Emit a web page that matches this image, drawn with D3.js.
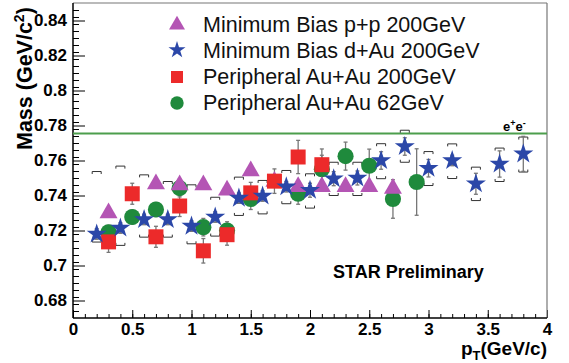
<!DOCTYPE html>
<html>
<head>
<meta charset="utf-8">
<script src="https://cdn.jsdelivr.net/npm/d3@7"></script>
<style>
  body { margin: 0; background: #fff; }
  text { font-family: "Liberation Sans", Arial, Helvetica, sans-serif; }
</style>
</head>
<body>
<svg id="chart" width="569" height="363"></svg>
<script>
// rho mass vs pT, STAR preliminary

const rhoMass = 0.7755;

// Minimum Bias p+p 200GeV (triangles)
const ptPP = [0.3, 0.7, 0.9, 1.1, 1.3, 1.5, 1.7, 1.9, 2.1, 2.3, 2.5, 2.7];
const massPP = [0.730, 0.7466, 0.746, 0.746, 0.743, 0.754, 0.748, 0.745, 0.745, 0.745, 0.745, 0.744];

// Minimum Bias d+Au 200GeV (stars)
const ptDAu = [0.2, 0.4, 0.6, 0.8, 1.0, 1.2, 1.4, 1.6, 1.8, 2.0, 2.2, 2.4, 2.6, 2.8, 3.0, 3.2, 3.4, 3.6, 3.8];
const massDAu = [0.718, 0.7214, 0.7263, 0.7263, 0.7225, 0.7277, 0.7385, 0.7397, 0.745, 0.743, 0.7496, 0.750, 0.760, 0.768, 0.7556, 0.760, 0.7467, 0.758, 0.7638];
const statDAu = [0.003, 0.003, 0.003, 0.003, 0.003, 0.003, 0.003, 0.003, 0.003, 0.004, 0.004, 0.004, 0.005, 0.005, 0.005, 0.003, 0.006, 0.0075, 0.01];
const sysHiDAu = [0.7537, 0.7568, 0.7518, 0.748, 0.7461, 0.739, 0.7505, 0.7486, 0.7543, 0.7524, 0.759, 0.759, 0.7696, 0.7773, 0.7651, 0.7695, 0.7562, 0.7671, 0.7734];
const sysLoDAu = [0.7134, 0.7115, 0.7162, 0.7162, 0.7124, 0.7168, 0.7286, 0.7295, 0.7353, 0.7328, 0.740, 0.740, 0.7496, 0.759, 0.7457, 0.7497, 0.7371, 0.748, 0.7534];

// Peripheral Au+Au 200GeV (squares)
const ptAu200 = [0.3, 0.5, 0.7, 0.9, 1.1, 1.3, 1.5, 1.7, 1.9, 2.1];
const massAu200 = [0.7135, 0.741, 0.7164, 0.734, 0.7084, 0.7176, 0.7415, 0.7482, 0.762, 0.7576];
const errAu200 = [0.006, 0.006, 0.006, 0.006, 0.007, 0.006, 0.006, 0.007, 0.0095, 0.009];

// Peripheral Au+Au 62GeV (circles)
const ptAu62 = [0.3, 0.5, 0.7, 0.9, 1.1, 1.3, 1.5, 1.9, 2.1, 2.3, 2.5, 2.7, 2.9];
const massAu62 = [0.719, 0.7277, 0.732, 0.7442, 0.7219, 0.720, 0.738, 0.741, 0.755, 0.7625, 0.757, 0.738, 0.7477];
const errAu62 = [0.004, 0.004, 0.004, 0.005, 0.005, 0.005, 0.006, 0.006, 0.008, 0.008, 0.0095, 0.011, 0.019];

const xTicks = [0, 0.5, 1, 1.5, 2, 2.5, 3, 3.5, 4];
const yTicks = [0.68, 0.7, 0.72, 0.74, 0.76, 0.78, 0.8, 0.82, 0.84];

const legendLabels = [
    "Minimum Bias p+p 200GeV",
    "Minimum Bias d+Au 200GeV",
    "Peripheral Au+Au 200GeV",
    "Peripheral Au+Au 62GeV"
];

const colPP = "#b455b4", colDAu = "#2b47a8", colAu200 = "#ec2a2a", colAu62 = "#1f8a3c";

const svg = d3.select("#chart");
const x0 = 73, x1 = 547, y0 = 318, y1 = 3;

const x = d3.scaleLinear().domain([0, 4]).range([x0, x1]);
const y = d3.scaleLinear().domain([0.67, 0.85]).range([y0, y1]);

// minor ticks (inward, ROOT style)
svg.append("g")
    .attr("transform", `translate(0,${y0})`)
    .call(d3.axisBottom(x).tickValues(d3.range(0, 41).map(i => i / 10)).tickSizeInner(-4).tickSizeOuter(0).tickFormat(""))
    .call(g => g.select(".domain").remove());
svg.append("g")
    .attr("transform", `translate(${x0},0)`)
    .call(d3.axisLeft(y).tickValues(d3.range(1, 45).map(i => 0.67 + i * 0.004)).tickSizeInner(-6).tickSizeOuter(0).tickFormat(""))
    .call(g => g.select(".domain").remove());

// major ticks with labels
const gx = svg.append("g")
    .attr("transform", `translate(0,${y0})`)
    .call(d3.axisBottom(x).tickValues(xTicks).tickSizeInner(-8).tickSizeOuter(0).tickPadding(5).tickFormat(d3.format("")));
gx.select(".domain").remove();
gx.selectAll("text").attr("font-size", 17).attr("font-weight", "bold").attr("fill", "#000")
    .attr("font-family", "'Liberation Sans', Arial, sans-serif");

const gy = svg.append("g")
    .attr("transform", `translate(${x0},0)`)
    .call(d3.axisLeft(y).tickValues(yTicks).tickSizeInner(-12).tickSizeOuter(0).tickPadding(6).tickFormat(d3.format("")));
gy.select(".domain").remove();
gy.selectAll("text").attr("font-size", 17).attr("font-weight", "bold").attr("fill", "#000")
    .attr("font-family", "'Liberation Sans', Arial, sans-serif");

// frame
svg.append("line").attr("x1", x0).attr("x2", x1).attr("y1", y1).attr("y2", y1).attr("stroke", "#777").attr("stroke-width", 1.2);
svg.append("line").attr("x1", x1).attr("x2", x1).attr("y1", y1).attr("y2", y0).attr("stroke", "#777").attr("stroke-width", 1.2);
svg.append("line").attr("x1", x0).attr("x2", x1).attr("y1", y0).attr("y2", y0).attr("stroke", "#000").attr("stroke-width", 1.5);
svg.append("line").attr("x1", x0).attr("x2", x0).attr("y1", y1).attr("y2", y0).attr("stroke", "#000").attr("stroke-width", 1.5);

// rho mass line
svg.append("line")
    .attr("x1", x0).attr("x2", x1)
    .attr("y1", y(rhoMass)).attr("y2", y(rhoMass))
    .attr("stroke", "#4c9e4c").attr("stroke-width", 2);

svg.append("text")
    .attr("x", 503).attr("y", 131)
    .attr("font-size", 13).attr("font-weight", "bold")
    .html('e<tspan dy="-5" font-size="9">+</tspan><tspan dy="5">e</tspan><tspan dy="-5" font-size="9">-</tspan>');

// systematic brackets (d+Au)
const bw = 4.5, bh = 2.5;
const brackets = svg.append("g").attr("stroke", "#333").attr("stroke-width", 1).attr("fill", "none");
ptDAu.forEach((p, i) => {
    const cx = x(p);
    const yh = y(sysHiDAu[i]), yl = y(sysLoDAu[i]);
    brackets.append("path").attr("d", `M${cx - bw},${yh + bh}V${yh}H${cx + bw}V${yh + bh}`);
    brackets.append("path").attr("d", `M${cx - bw},${yl - bh}V${yl}H${cx + bw}V${yl - bh}`);
});

// statistical error bars
function errorBars(pts, vals, errs) {
    const g = svg.append("g").attr("stroke", "#777").attr("stroke-width", 1.3);
    pts.forEach((p, i) => {
        const cx = x(p), ya = y(vals[i] + errs[i]), yb = y(vals[i] - errs[i]);
        g.append("line").attr("x1", cx).attr("x2", cx).attr("y1", ya).attr("y2", yb);
        g.append("line").attr("x1", cx - 2).attr("x2", cx + 2).attr("y1", ya).attr("y2", ya);
        g.append("line").attr("x1", cx - 2).attr("x2", cx + 2).attr("y1", yb).attr("y2", yb);
    });
}
errorBars(ptAu62, massAu62, errAu62);
errorBars(ptAu200, massAu200, errAu200);
errorBars(ptDAu, massDAu, statDAu);

// markers
const symCircle = d3.symbol().type(d3.symbolCircle).size(205);
const symTri = d3.symbol().type(d3.symbolTriangle).size(140);
const symSquare = d3.symbol().type(d3.symbolSquare).size(225);
const symStar = d3.symbol().type(d3.symbolStar).size(125);

function drawSeries(pts, vals, sym, color) {
    svg.append("g").selectAll("path")
        .data(pts.map((p, i) => [p, vals[i]]))
        .enter()
        .append("path")
        .attr("d", sym)
        .attr("transform", d => `translate(${x(d[0])},${y(d[1])})`)
        .attr("fill", color);
}
drawSeries(ptAu62, massAu62, symCircle, colAu62);
drawSeries(ptPP, massPP, symTri, colPP);
drawSeries(ptAu200, massAu200, symSquare, colAu200);
drawSeries(ptDAu, massDAu, symStar, colDAu);

// legend
const legendSyms = [
    d3.symbol().type(d3.symbolTriangle).size(110)(),
    d3.symbol().type(d3.symbolStar).size(90)(),
    d3.symbol().type(d3.symbolSquare).size(144)(),
    d3.symbol().type(d3.symbolCircle).size(140)()
];
const legendCols = [colPP, colDAu, colAu200, colAu62];
const legendY = [25, 50, 77, 103];
const legendBase = [32, 58, 84, 110];
legendLabels.forEach((lab, i) => {
    svg.append("path").attr("d", legendSyms[i])
        .attr("transform", `translate(177,${legendY[i]})`)
        .attr("fill", legendCols[i]);
    svg.append("text")
        .attr("x", 203).attr("y", legendBase[i])
        .attr("font-size", 21.5).attr("fill", "#111")
        .text(lab);
});

svg.append("text")
    .attr("x", 333).attr("y", 278)
    .attr("font-size", 18).attr("font-weight", "bold")
    .text("STAR Preliminary");

// axis titles
svg.append("text")
    .attr("transform", "translate(32,150) rotate(-90)")
    .attr("font-size", 21.5).attr("font-weight", "bold")
    .html('Mass (GeV/c<tspan dy="-8" font-size="14">2</tspan><tspan dy="8">)</tspan>');

svg.append("text")
    .attr("x", 547).attr("y", 355)
    .attr("text-anchor", "end")
    .attr("font-size", 19).attr("font-weight", "bold")
    .html('p<tspan dy="5" font-size="13">T</tspan><tspan dy="-5">(GeV/c)</tspan>');
</script>
</body>
</html>
